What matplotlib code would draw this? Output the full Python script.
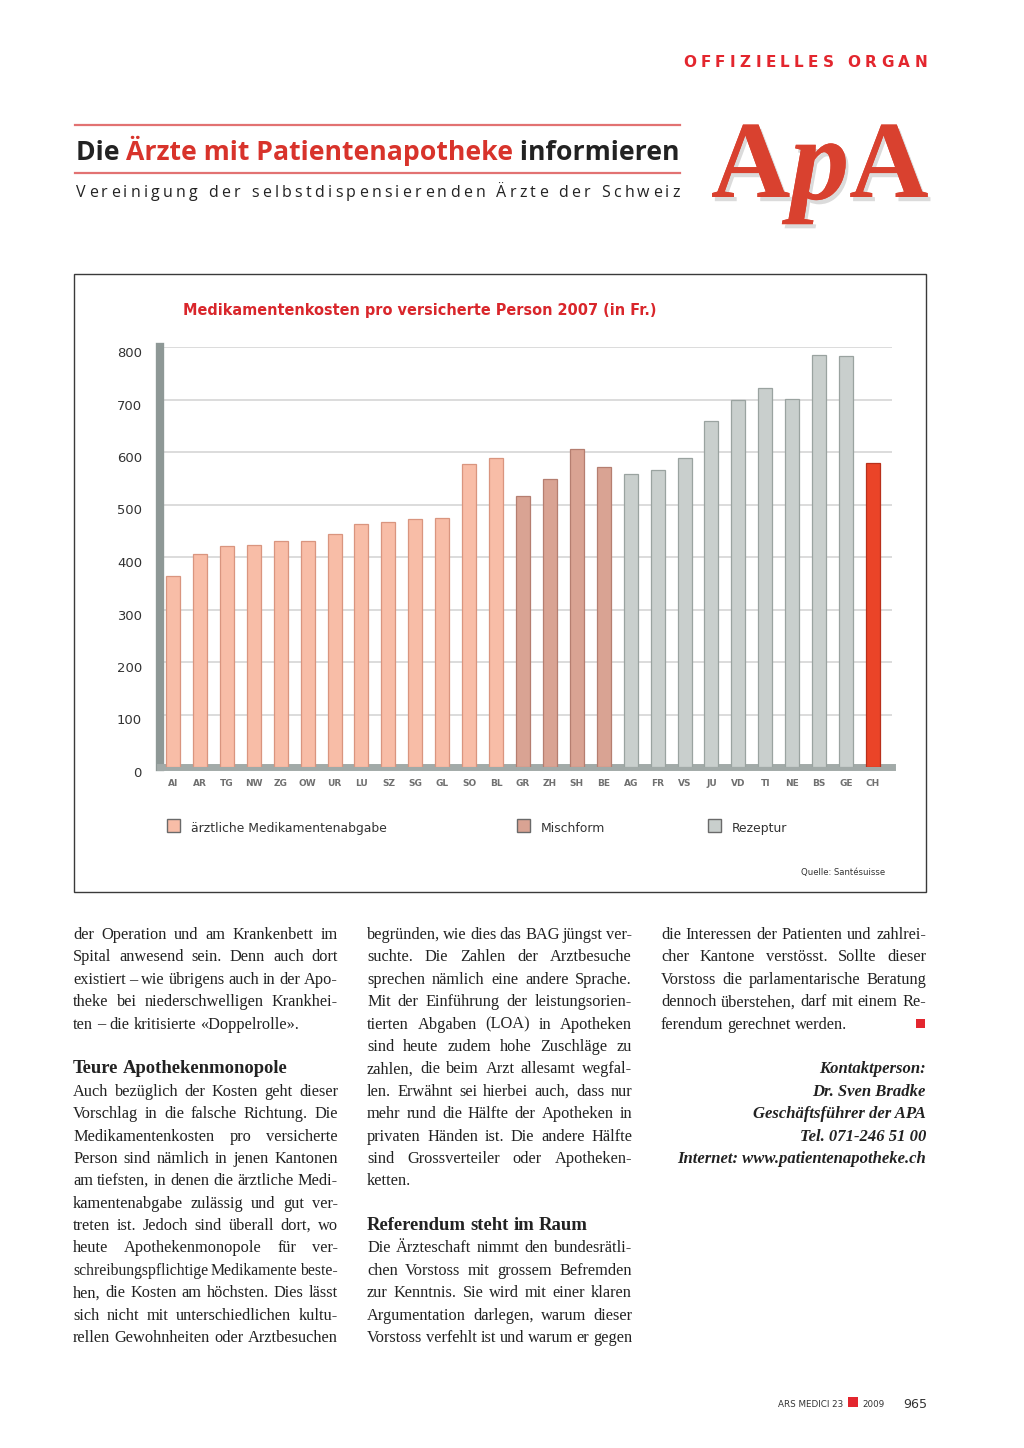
import numpy as np
import matplotlib.pyplot as plt
from matplotlib.patches import Rectangle
import matplotlib.patheffects as pe

# =====================================================
# Data
# =====================================================
cantons = ["AI", "AR", "TG", "NW", "ZG", "OW", "UR", "LU", "SZ", "SG", "GL",
           "SO", "BL", "GR", "ZH", "SH", "BE", "AG", "FR", "VS", "JU", "VD",
           "TI", "NE", "BS", "GE", "CH"]
costs = [364, 406, 421, 423, 430, 431, 444, 462, 466, 473, 475,
         577, 588, 516, 549, 606, 572, 558, 566, 588, 659, 699,
         721, 701, 785, 782, 580]
# system: 0 = aerztliche Abgabe, 1 = Mischform, 2 = Rezeptur, 3 = Schweiz
system = [0, 0, 0, 0, 0, 0, 0, 0, 0, 0, 0,
          0, 0, 1, 1, 1, 1, 2, 2, 2, 2, 2,
          2, 2, 2, 2, 3]
legend_labels = ["ärztliche Medikamentenabgabe", "Mischform", "Rezeptur"]
y_ticks = [0, 100, 200, 300, 400, 500, 600, 700, 800]

bar_colors = ["#f8bda7", "#d9a393", "#c9cfcd", "#ea4428"]
bar_edges = ["#d9957f", "#b57e70", "#9aa3a0", "#b8301b"]

RED = "#d8332b"
TEXT = "#222222"
SERIF = "Liberation Serif"
COND = "DejaVu Sans"

col1 = [("der Operation und am Krankenbett im", 1),
        ("Spital anwesend sein. Denn auch dort", 1),
        ("existiert – wie übrigens auch in der Apo-", 1),
        ("theke bei niederschwelligen Krankhei-", 1),
        ("ten – die kritisierte «Doppelrolle».", 0),
        ("", 0),
        ("Teure Apothekenmonopole", 2),
        ("Auch bezüglich der Kosten geht dieser", 1),
        ("Vorschlag in die falsche Richtung. Die", 1),
        ("Medikamentenkosten pro versicherte", 1),
        ("Person sind nämlich in jenen Kantonen", 1),
        ("am tiefsten, in denen die ärztliche Medi-", 1),
        ("kamentenabgabe zulässig und gut ver-", 1),
        ("treten ist. Jedoch sind überall dort, wo", 1),
        ("heute Apothekenmonopole für ver-", 1),
        ("schreibungspflichtige Medikamente beste-", 1),
        ("hen, die Kosten am höchsten. Dies lässt", 1),
        ("sich nicht mit unterschiedlichen kultu-", 1),
        ("rellen Gewohnheiten oder Arztbesuchen", 1)]
col2 = [("begründen, wie dies das BAG jüngst ver-", 1),
        ("suchte. Die Zahlen der Arztbesuche", 1),
        ("sprechen nämlich eine andere Sprache.", 1),
        ("Mit der Einführung der leistungsorien-", 1),
        ("tierten Abgaben (LOA) in Apotheken", 1),
        ("sind heute zudem hohe Zuschläge zu", 1),
        ("zahlen, die beim Arzt allesamt wegfal-", 1),
        ("len. Erwähnt sei hierbei auch, dass nur", 1),
        ("mehr rund die Hälfte der Apotheken in", 1),
        ("privaten Händen ist. Die andere Hälfte", 1),
        ("sind Grossverteiler oder Apotheken-", 1),
        ("ketten.", 0),
        ("", 0),
        ("Referendum steht im Raum", 2),
        ("Die Ärzteschaft nimmt den bundesrätli-", 1),
        ("chen Vorstoss mit grossem Befremden", 1),
        ("zur Kenntnis. Sie wird mit einer klaren", 1),
        ("Argumentation darlegen, warum dieser", 1),
        ("Vorstoss verfehlt ist und warum er gegen", 1)]
col3 = [("die Interessen der Patienten und zahlrei-", 1),
        ("cher Kantone verstösst. Sollte dieser", 1),
        ("Vorstoss die parlamentarische Beratung", 1),
        ("dennoch überstehen, darf mit einem Re-", 1),
        ("ferendum gerechnet werden.", 0)]
contact = ["Kontaktperson:", "Dr. Sven Bradke", "Geschäftsführer der APA",
           "Tel. 071-246 51 00", "Internet: www.patientenapotheke.ch"]

# =====================================================
# Page canvas in pixel coordinates
# =====================================================
fig = plt.figure(figsize=(10.24, 14.48), dpi=100)
page = fig.add_axes([0, 0, 1, 1])
page.set_xlim(0, 1024)
page.set_ylim(1448, 0)
page.axis("off")
renderer = fig.canvas.get_renderer()


def width_of(t):
    return t.get_window_extent(renderer=renderer).width


def space_width(**kw):
    a = page.text(0, 0, "x x", **kw)
    b = page.text(0, 0, "xx", **kw)
    w = width_of(a) - width_of(b)
    a.remove()
    b.remove()
    return w


def put_line(text, x0, x1, y, justify, **kw):
    """Place a line of words, stretched to [x0, x1] if justify.
    Shrinks the font a little when the words do not fit."""
    words = text.split(" ")
    objs = [page.text(x0, y, w, va="baseline", ha="left", **kw) for w in words]
    ws = [width_of(o) for o in objs]
    sw = space_width(**kw)
    need = sum(ws) + 0.7 * sw * (len(words) - 1)
    if justify and need > (x1 - x0):
        k = (x1 - x0) / need
        for o in objs:
            o.set_fontsize(kw["fontsize"] * k)
        ws = [width_of(o) for o in objs]
    if justify and len(words) > 1:
        gap = (x1 - x0 - sum(ws)) / (len(words) - 1)
    else:
        gap = sw
    x = x0
    for o, w in zip(objs, ws):
        o.set_x(x)
        x += w + gap
    return x - gap


def spaced(text, x0, x1, y, **kw):
    """Letter-spaced text filling [x0, x1]."""
    sw = space_width(**kw)
    objs, ws = [], []
    for c in text:
        if c == " ":
            objs.append(None)
            ws.append(sw)
        else:
            o = page.text(x0, y, c, va="baseline", ha="left", **kw)
            objs.append(o)
            ws.append(width_of(o))
    gap = (x1 - x0 - sum(ws)) / (len(text) - 1)
    x = x0
    for o, w in zip(objs, ws):
        if o is not None:
            o.set_x(x)
        x += w + gap


def fit_size(text, target, **kw):
    t = page.text(0, 0, text, fontsize=20, **kw)
    w = width_of(t)
    t.remove()
    return 20 * target / w


# -----------------------------
# Header
# -----------------------------
spaced("OFFIZIELLES ORGAN", 683, 927, 67, fontsize=11, fontweight="bold",
       color="#e3262e", family="DejaVu Sans")

page.plot([75, 680], [125, 125], color="#e27272", lw=1.6)
page.plot([75, 680], [173, 173], color="#e27272", lw=1.6)

parts = [("Die ", TEXT), ("Ärzte mit Patientenapotheke", RED), (" informieren", TEXT)]
tsize = fit_size("".join(p for p, _ in parts), 604, fontweight="bold", family="Open Sans")
x = 76
for p, c in parts:
    t = page.text(x, 160, p, fontsize=tsize, fontweight="bold", family="Open Sans",
                  color=c, va="baseline")
    x += width_of(t)

spaced("Vereinigung der selbstdispensierenden Ärzte der Schweiz", 76, 680, 197,
       fontsize=11.5, color=TEXT, family="Open Sans")

# ApA logo: letters placed one after another
shadow = [pe.withSimplePatchShadow(offset=(2, -3), shadow_rgbFace="#888888", alpha=0.3),
          pe.Normal()]
logo_kw = dict(fontweight="bold", color="#d9412f", family=SERIF,
               va="baseline", path_effects=shadow)
a1 = page.text(711, 197, "A", fontsize=79, **logo_kw)
px = 711 + width_of(a1)
pp = page.text(px, 199, "p", style="italic", fontsize=85, **logo_kw)
page.text(px + width_of(pp), 197, "A", fontsize=79, **logo_kw)

# -----------------------------
# Chart frame
# -----------------------------
page.add_patch(Rectangle((73.5, 273.5), 852, 618, fill=False, ec="#3a3a3a", lw=1.0))
ctitle = "Medikamentenkosten pro versicherte Person 2007 (in Fr.)"
ctsize = fit_size(ctitle, 473, fontweight="bold", family=COND)
page.text(183, 315, ctitle, fontsize=ctsize, fontweight="bold", family=COND,
          color="#d9262b", va="baseline")

# chart axes: x positions 0..26 -> pixels 173..873, y 0..800 -> pixels 767..347
step = (873 - 173) / 26.0
ax_left, ax_right = 160, 892
ax_bottom, ax_top = 767, 347
ax = fig.add_axes([ax_left / 1024, (1448 - ax_bottom) / 1448,
                   (ax_right - ax_left) / 1024, (ax_bottom - ax_top) / 1448])
ax.set_xlim(-(173 - ax_left) / step, (ax_right - 173) / step)
ax.set_ylim(0, 800)

xs = np.arange(len(cantons))
ax.bar(xs, costs, width=0.52,
       color=[bar_colors[s] for s in system],
       edgecolor=[bar_edges[s] for s in system], linewidth=0.9, zorder=3)

ysize = fit_size("800", 25, family=COND)
ax.set_yticks(y_ticks)
ax.set_yticklabels([str(v) for v in y_ticks], fontsize=ysize, family=COND,
                   color="#333333")
ax.set_xticks(xs)
ax.set_xticklabels(cantons, fontsize=6.5, fontweight="bold", color="#707070")
ax.tick_params(axis="y", length=0, pad=13)
ax.tick_params(axis="x", length=0, pad=9)
for lab in ax.get_yticklabels():
    lab.set_va("top")
ax.yaxis.grid(True, color="#d9d9d9", lw=1.3, zorder=0)
ax.set_axisbelow(True)
for s in ["top", "right"]:
    ax.spines[s].set_visible(False)
ax.spines["left"].set_color("#8e9896")
ax.spines["left"].set_linewidth(6)
ax.spines["bottom"].set_color("#a2aaa8")
ax.spines["bottom"].set_linewidth(5)
ax.patch.set_alpha(0)

# legend
legend_x = [167, 517, 708]
lsize = fit_size(legend_labels[0], 195, family=COND)
for lx, lab, c in zip(legend_x, legend_labels, bar_colors):
    page.add_patch(Rectangle((lx, 819), 13, 13, fc=c, ec="#6a6a6a", lw=1.0))
    page.text(lx + 24, 832, lab, fontsize=lsize, family=COND,
              color="#333333", va="baseline")

qsize = fit_size("Quelle: Santésuisse", 84, family=COND)
page.text(885, 875, "Quelle: Santésuisse", fontsize=qsize, family=COND,
          color="#333333", ha="right", va="baseline")

# -----------------------------
# Body text, three justified columns
# -----------------------------
line_h = 22.39
base0 = 939
body_kw = dict(fontsize=11.8, family=SERIF, color=TEXT)
head_kw = dict(fontsize=13.4, family=SERIF, color=TEXT, fontweight="bold")
columns = [(73, 338, col1), (367, 632, col2), (661, 926, col3)]
for x0, x1, lines in columns:
    for i, (txt, mode) in enumerate(lines):
        if not txt:
            continue
        y = base0 + i * line_h
        if mode == 2:
            put_line(txt, x0, x1, y, False, **head_kw)
        else:
            put_line(txt, x0, x1, y, mode == 1, **body_kw)

# end-of-article square
page.add_patch(Rectangle((916, 1019), 9, 9, fc="#e3262e", ec="none"))

# contact block (right aligned, bold italic)
for i, txt in enumerate(contact):
    page.text(926, base0 + (6 + i) * line_h, txt, fontsize=12, family=SERIF,
              style="italic", fontweight="bold", color=TEXT, ha="right", va="baseline")

# -----------------------------
# Footer
# -----------------------------
foot_kw = dict(family=COND, color="#333333", va="baseline")
fsize = fit_size("ARS MEDICI 23", 66, family=COND)
page.text(778, 1407, "ARS MEDICI 23", fontsize=fsize, **foot_kw)
page.add_patch(Rectangle((848, 1397), 10, 10, fc="#e3262e", ec="none"))
page.text(862, 1407, "2009", fontsize=fsize, **foot_kw)
nsize = fit_size("965", 24, family=COND)
page.text(927, 1408, "965", fontsize=nsize, ha="right", **foot_kw)

fig.savefig("out.png", dpi=100)
